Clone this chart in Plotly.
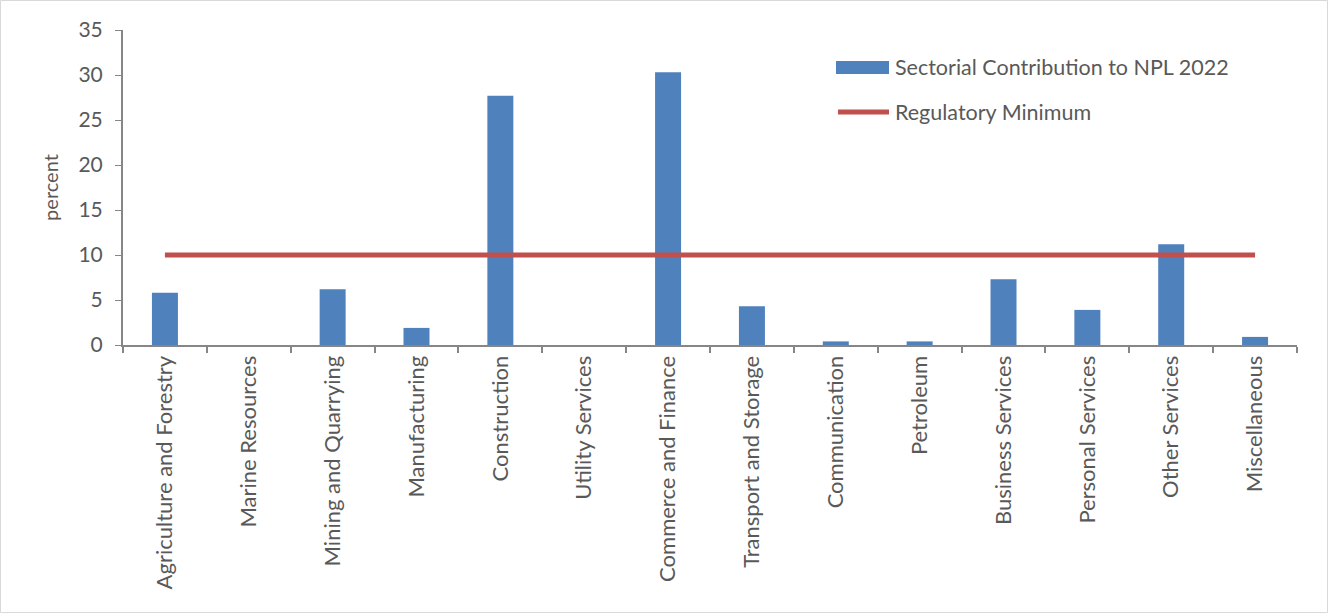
import plotly.graph_objects as go

# Sector categories and their share of non-performing loans (percent)
sectors = [
    "Agriculture and Forestry", "Marine Resources", "Mining and Quarrying",
    "Manufacturing", "Construction", "Utility Services", "Commerce and Finance",
    "Transport and Storage", "Communication", "Petroleum", "Business Services",
    "Personal Services", "Other Services", "Miscellaneous",
]
npl_share = [5.8, 0.0, 6.2, 1.9, 27.7, 0.0, 30.3, 4.3, 0.4, 0.4, 7.3, 3.9, 11.2, 0.9]
regulatory_min = [10] * len(sectors)

bar_label = "Sectorial Contribution to NPL 2022"
line_label = "Regulatory Minimum"

BLUE = "#4F81BD"
RED = "#C0504D"
AXIS = "#868686"
TEXT = "#595959"
FONT = "Lato, 'Open Sans', sans-serif"

W, H = 1328, 613
ML, MR, MT, MB = 123, 31, 30, 268
PW, PH = W - ML - MR, H - MT - MB


def px_x(p):
    return (p - ML) / PW


def px_y(p):
    return (H - MB - p) / PH


fig = go.Figure()
fig.add_trace(go.Bar(
    x=sectors, y=npl_share, name=bar_label, marker_color=BLUE,
    marker_line=dict(width=0), showlegend=False,
))
fig.add_trace(go.Scatter(
    x=sectors, y=regulatory_min, name=line_label, mode="lines",
    line=dict(color=RED, width=5), showlegend=False,
))

shapes = [
    # outer chart frame
    dict(type="rect", xref="paper", yref="paper",
         x0=px_x(0.5), x1=px_x(W - 0.5), y0=px_y(H - 0.5), y1=px_y(0.5),
         line=dict(color="#D9D9D9", width=1), fillcolor="rgba(0,0,0,0)"),
    # legend keys
    dict(type="rect", xref="paper", yref="paper",
         x0=px_x(836), x1=px_x(889), y0=px_y(74), y1=px_y(61),
         line=dict(width=0), fillcolor=BLUE),
    dict(type="line", xref="paper", yref="paper",
         x0=px_x(838), x1=px_x(889), y0=px_y(112), y1=px_y(112),
         line=dict(color=RED, width=5)),
]
annotations = [
    dict(text=bar_label, xref="paper", yref="paper", x=px_x(893), y=px_y(67),
         xanchor="left", yanchor="middle", showarrow=False,
         font=dict(size=21.5, color=TEXT, family=FONT)),
    dict(text=line_label, xref="paper", yref="paper", x=px_x(893), y=px_y(112),
         xanchor="left", yanchor="middle", showarrow=False,
         font=dict(size=21.5, color=TEXT, family=FONT)),
]

fig.update_layout(
    width=W, height=H,
    margin=dict(l=ML, r=MR, t=MT, b=MB),
    paper_bgcolor="white", plot_bgcolor="white",
    bargap=0.69,
    font=dict(family=FONT, color=TEXT, size=21),
    shapes=shapes, annotations=annotations,
    xaxis=dict(
        type="category", range=[-0.5, len(sectors) - 0.5],
        showline=True, linecolor=AXIS, linewidth=2,
        ticks="outside", tickson="boundaries", ticklen=6, tickcolor=AXIS,
        tickwidth=2, tickangle=-90, tickfont=dict(size=22, color=TEXT),
        showgrid=False,
    ),
    yaxis=dict(
        range=[0, 35], dtick=5, tick0=0,
        showline=True, linecolor=AXIS, linewidth=2,
        ticks="outside", ticklen=6, tickcolor=AXIS, tickwidth=1,
        ticklabelstandoff=8,
        tickfont=dict(size=21, color=TEXT), showgrid=False, zeroline=False,
        title=dict(text="percent", font=dict(size=20, color=TEXT), standoff=14),
    ),
)

fig.write_html("out.html")
